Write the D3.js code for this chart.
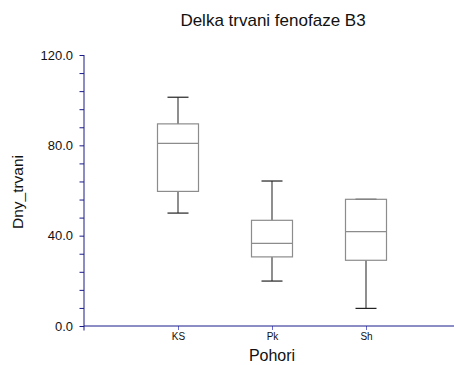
<!DOCTYPE html>
<html>
<head>
<meta charset="utf-8">
<script src="https://cdn.jsdelivr.net/npm/d3@7"></script>
<style>
  html, body { margin: 0; padding: 0; background: #fff; }
  svg { display: block; font-family: "Liberation Sans", Arial, sans-serif; }
</style>
</head>
<body>
<svg id="chart" width="454" height="365"></svg>
<script>
// Duration of phenophase B3 per mountain range (box summaries)
const categories = ["KS", "Pk", "Sh"];
const whiskerLow  = [50.0, 19.9, 7.8];
const quartile1   = [59.6, 30.6, 29.1];
const medians     = [80.9, 36.6, 41.8];
const quartile3   = [89.5, 46.8, 56.1];
const whiskerHigh = [101.3, 64.2, 56.1];
const yTicks = [0, 40, 80, 120];
const yMinorTicks = d3.range(0, 121, 8);

const svg = d3.select("#chart");
const plotLeft = 84, plotTop = 55, plotBottom = 326;

const y = d3.scaleLinear().domain([0, 120]).range([plotBottom, plotTop]);
// categories sit at positions 1..3 on a 0..4 linear axis
const x = d3.scaleLinear().domain([0, 4]).range([plotLeft, plotLeft + 94 * 4]);

const axisColor = "#1a1a8c";

// title
svg.append("text")
  .attr("x", 273).attr("y", 25.5)
  .attr("text-anchor", "middle")
  .attr("font-size", 17)
  .attr("fill", "#111")
  .text("Delka trvani fenofaze B3");

// y axis
const yAxis = svg.append("g").attr("transform", `translate(${plotLeft},0)`);
yAxis.call(d3.axisLeft(y).tickValues(yMinorTicks).tickSize(4.5).tickFormat(""));
yAxis.select(".domain").remove();
yAxis.selectAll(".tick line").attr("stroke", axisColor);
yAxis.append("line")
  .attr("x1", 0).attr("x2", 0)
  .attr("y1", plotTop).attr("y2", plotBottom + 4.5)
  .attr("stroke", axisColor);
yTicks.forEach(v => {
  yAxis.append("text")
    .attr("x", -11).attr("y", y(v))
    .attr("dy", "0.36em")
    .attr("text-anchor", "end")
    .attr("font-size", 13)
    .attr("fill", "#111")
    .text(d3.format(".1f")(v));
});

// x axis
const xAxis = svg.append("g").attr("transform", `translate(0,${plotBottom})`);
xAxis.call(d3.axisBottom(x).tickValues([1, 2, 3]).tickSize(4)
  .tickFormat(d => categories[d - 1]));
xAxis.select(".domain").remove();
xAxis.append("line")
  .attr("x1", plotLeft).attr("x2", x(4))
  .attr("y1", 0).attr("y2", 0)
  .attr("stroke", axisColor);
xAxis.selectAll(".tick line").attr("stroke", "#6b6bd0");
xAxis.selectAll(".tick text")
  .attr("font-size", 10)
  .attr("fill", "#111")
  .attr("font-family", "Liberation Sans, Arial, sans-serif")
  .attr("y", 7);

// axis titles
svg.append("text")
  .attr("x", 272).attr("y", 361)
  .attr("text-anchor", "middle")
  .attr("font-size", 16)
  .attr("fill", "#111")
  .text("Pohori");

svg.append("text")
  .attr("transform", `translate(23,192) rotate(-90)`)
  .attr("text-anchor", "middle")
  .attr("font-size", 15.5)
  .attr("fill", "#111")
  .text("Dny_trvani");

// boxes
const boxW = 41, capW = 21;
const boxes = svg.append("g");
categories.forEach((c, i) => {
  const cx = x(i + 1);
  const g = boxes.append("g");
  // whiskers
  g.append("line")
    .attr("x1", cx).attr("x2", cx)
    .attr("y1", y(quartile3[i])).attr("y2", y(whiskerHigh[i]))
    .attr("stroke", "#444").attr("stroke-width", 1.2);
  g.append("line")
    .attr("x1", cx).attr("x2", cx)
    .attr("y1", y(quartile1[i])).attr("y2", y(whiskerLow[i]))
    .attr("stroke", "#444").attr("stroke-width", 1.2);
  [whiskerHigh[i], whiskerLow[i]].forEach(v => {
    g.append("line")
      .attr("x1", cx - capW / 2).attr("x2", cx + capW / 2)
      .attr("y1", y(v)).attr("y2", y(v))
      .attr("stroke", "#222").attr("stroke-width", 1.2);
  });
  // box
  g.append("rect")
    .attr("x", cx - boxW / 2)
    .attr("y", y(quartile3[i]))
    .attr("width", boxW)
    .attr("height", y(quartile1[i]) - y(quartile3[i]))
    .attr("fill", "none")
    .attr("stroke", "#8c8c8c").attr("stroke-width", 1.2);
  g.append("line")
    .attr("x1", cx - boxW / 2).attr("x2", cx + boxW / 2)
    .attr("y1", y(medians[i])).attr("y2", y(medians[i]))
    .attr("stroke", "#8c8c8c").attr("stroke-width", 1.2);
});
</script>
</body>
</html>
